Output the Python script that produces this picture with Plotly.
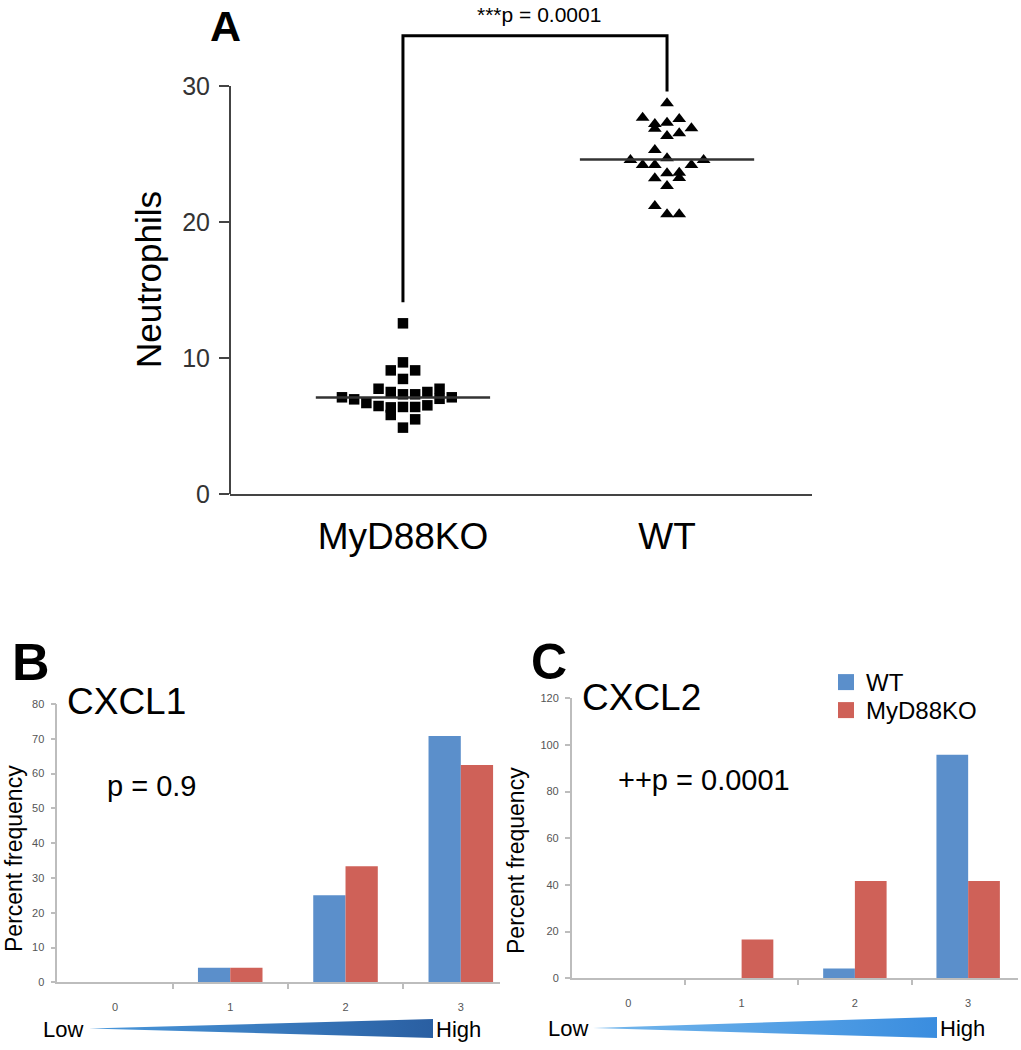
import plotly.graph_objects as go

# ---------------- data ----------------
groups = ["MyD88KO", "WT"]

# Panel A: neutrophil counts and beeswarm column slot of each point
ko_values = [12.55, 9.68, 9.09, 9.09, 8.46, 7.74, 7.5, 7.33, 7.33, 7.5, 7.74, 7.0,
             7.11, 7.11, 6.96, 6.69, 6.47, 6.37, 5.81, 6.4, 6.4, 6.52, 5.49, 4.88]
ko_slots = [0, 0, -1, 1, 0, -2, -1, 0, 1, 2, 3, 3, 4, -5, -4, -3, -2, -1, -1, 0, 1, 2, 1, 0]
wt_values = [28.73, 27.67, 27.2, 26.86, 27.3, 27.57, 26.89, 26.32, 26.52, 25.29, 24.68, 24.56,
             24.19, 24.19, 24.19, 24.56, 23.58, 23.63, 23.24, 23.21, 22.65, 21.18, 20.57, 20.57]
wt_slots = [0, -2, -1, -1, 0, 1, 2, 0, 1, -1, 0, -3, -2, -1, 2, 3, 0, 1, 1, -1, 0, -1, 0, 1]
ko_median = 7.1
wt_median = 24.6
a_yticks = [0, 10, 20, 30]
p_text_a = "***p = 0.0001"

# Panels B / C: percent frequency by score
scores = [0, 1, 2, 3]
score_labels = ["0", "1", "2", "3"]
cxcl1_wt = [0, 4.17, 25.0, 70.83]
cxcl1_ko = [0, 4.17, 33.33, 62.5]
cxcl2_wt = [0, 0, 4.17, 95.83]
cxcl2_ko = [0, 16.67, 41.67, 41.67]

# ---------------- style ----------------
W, H = 1021, 1050
FONT = "Liberation Sans, Arial, Helvetica, sans-serif"
BLUE = "#5b8fcb"
RED = "#cf6158"
AX_GRAY = "#bdbdbd"
SLOT = 0.0462


def px(x):
    return x / W


def py(y):
    return 1 - y / H


fig = go.Figure()

# ---------- Panel A ----------
fig.add_trace(go.Scatter(
    x=[0 + s * SLOT for s in ko_slots], y=ko_values, mode="markers",
    marker=dict(symbol="square", size=10.5, color="black"),
    xaxis="x", yaxis="y", showlegend=False, name="MyD88KO"))
fig.add_trace(go.Scatter(
    x=[1 + s * SLOT for s in wt_slots], y=wt_values, mode="markers",
    marker=dict(symbol="triangle-up", size=12, color="black"),
    xaxis="x", yaxis="y", showlegend=False, name="WT"))
# median lines
for gi, med in [(0, ko_median), (1, wt_median)]:
    fig.add_trace(go.Scatter(
        x=[gi - 0.33, gi + 0.33], y=[med, med], mode="lines",
        line=dict(color="#333333", width=2.5), xaxis="x", yaxis="y",
        showlegend=False, hoverinfo="skip"))
# significance bracket
bracket_top = 33.7
fig.add_trace(go.Scatter(
    x=[0, 0, 1, 1], y=[14.1, bracket_top, bracket_top, 29.6], mode="lines",
    line=dict(color="black", width=3), xaxis="x", yaxis="y",
    showlegend=False, hoverinfo="skip"))

# ---------- Panel B ----------
fig.add_trace(go.Bar(x=scores, y=cxcl1_wt, marker=dict(color=BLUE, line=dict(width=0)),
                     xaxis="x2", yaxis="y2", showlegend=False, name="WT"))
fig.add_trace(go.Bar(x=scores, y=cxcl1_ko, marker=dict(color=RED, line=dict(width=0)),
                     xaxis="x2", yaxis="y2", showlegend=False, name="MyD88KO"))

# ---------- Panel C ----------
fig.add_trace(go.Bar(x=scores, y=cxcl2_wt, marker=dict(color=BLUE, line=dict(width=0)),
                     xaxis="x3", yaxis="y3", showlegend=False, name="WT"))
fig.add_trace(go.Bar(x=scores, y=cxcl2_ko, marker=dict(color=RED, line=dict(width=0)),
                     xaxis="x3", yaxis="y3", showlegend=False, name="MyD88KO"))
# legend proxies (bigger square swatches)
fig.add_trace(go.Scatter(x=[None], y=[None], mode="markers", name="WT",
                         marker=dict(symbol="square", size=16, color=BLUE),
                         xaxis="x3", yaxis="y3", legend="legend"))
fig.add_trace(go.Scatter(x=[None], y=[None], mode="markers", name="MyD88KO",
                         marker=dict(symbol="square", size=16, color=RED),
                         xaxis="x3", yaxis="y3", legend="legend2"))

# ---------- Low -> High wedges (decoration, overlay pixel axes) ----------
wedges = [
    dict(x0=89, x1=433, yc=1028.5, yt=1019, yb=1038, c0="#4a98dc", c1="#2a5fa2"),
    dict(x0=593, x1=937, yc=1028, yt=1017, yb=1038, c0="#74b7ec", c1="#3a8ddf"),
]
for wd in wedges:
    fig.add_trace(go.Scatter(
        x=[wd["x0"], wd["x1"], wd["x1"], wd["x0"]],
        y=[wd["yc"], wd["yt"], wd["yb"], wd["yc"]],
        mode="lines", fill="toself", line=dict(width=0, color="rgba(0,0,0,0)"),
        fillgradient=dict(type="horizontal", colorscale=[[0, wd["c0"]], [1, wd["c1"]]]),
        xaxis="x4", yaxis="y4", showlegend=False, hoverinfo="skip"))

# ---------------- layout ----------------
a_x0, a_x1 = 230, 812
b_x0, b_x1 = 57.3, 500
c_x0, c_x1 = 571.7, 1018

fig.update_layout(
    width=W, height=H, autosize=False,
    margin=dict(l=0, r=0, t=0, b=0, autoexpand=False),
    paper_bgcolor="white", plot_bgcolor="rgba(0,0,0,0)",
    font=dict(family=FONT, color="black"),
    barmode="group", bargap=0.44, bargroupgap=0,
    xaxis=dict(domain=[px(a_x0), px(a_x1)], range=[-0.655, 1.549],
               tickvals=[0, 1], ticktext=groups, ticks="",
               tickfont=dict(size=37, color="black"), ticklabelstandoff=9,
               showline=True, linecolor="#444444", linewidth=2,
               showgrid=False, zeroline=False, anchor="y"),
    yaxis=dict(domain=[py(494), py(18)], range=[0, 35],
               tickvals=a_yticks, ticks="outside", ticklen=10, tickwidth=2,
               tickcolor="#444444", tickfont=dict(size=25, color="#333333"),
               ticklabelstandoff=4,
               showline=False, showgrid=False, zeroline=False, anchor="x"),
    xaxis2=dict(domain=[px(b_x0), px(b_x1)], range=[-0.5, 3.34],
                tickvals=scores, ticktext=score_labels, ticks="",
                tickfont=dict(size=11, color="#555555"), ticklabelstandoff=14,
                minor=dict(tickmode="array", tickvals=[0.5, 1.5, 2.5], ticks="outside",
                           ticklen=5, tickcolor=AX_GRAY, tickwidth=1.5, showgrid=False),
                showline=True, linecolor=AX_GRAY, linewidth=1.5,
                showgrid=False, zeroline=False, anchor="y2"),
    yaxis2=dict(domain=[py(982.3), py(704)], range=[0, 80], dtick=10,
                ticks="outside", ticklen=5, tickcolor=AX_GRAY, tickwidth=1.5,
                tickfont=dict(size=11, color="#555555"), ticklabelstandoff=4,
                showline=True, linecolor=AX_GRAY, linewidth=1.5,
                showgrid=False, zeroline=False, anchor="x2"),
    xaxis3=dict(domain=[px(c_x0), px(c_x1)], range=[-0.5, 3.44],
                tickvals=scores, ticktext=score_labels, ticks="",
                tickfont=dict(size=11, color="#555555"), ticklabelstandoff=14,
                minor=dict(tickmode="array", tickvals=[0.5, 1.5, 2.5], ticks="outside",
                           ticklen=5, tickcolor=AX_GRAY, tickwidth=1.5, showgrid=False),
                showline=True, linecolor=AX_GRAY, linewidth=1.5,
                showgrid=False, zeroline=False, anchor="y3"),
    yaxis3=dict(domain=[py(978.3), py(698.3)], range=[0, 120], dtick=20,
                ticks="outside", ticklen=5, tickcolor=AX_GRAY, tickwidth=1.5,
                tickfont=dict(size=11, color="#555555"), ticklabelstandoff=4,
                showline=True, linecolor=AX_GRAY, linewidth=1.5,
                showgrid=False, zeroline=False, anchor="x3"),
    xaxis4=dict(domain=[0, 1], range=[0, W], visible=False, fixedrange=True, anchor="y4"),
    yaxis4=dict(domain=[0, 1], range=[H, 0], visible=False, fixedrange=True, anchor="x4"),
    legend=dict(x=px(826), y=py(660), xanchor="left", yanchor="top",
                font=dict(size=24, color="black"), bgcolor="rgba(0,0,0,0)",
                itemwidth=30, tracegroupgap=0),
    legend2=dict(x=px(826), y=py(688), xanchor="left", yanchor="top",
                 font=dict(size=24, color="black"), bgcolor="rgba(0,0,0,0)",
                 itemwidth=30, tracegroupgap=0),
)

# y-axis line of panel A only spans 0..30
fig.add_shape(type="line", xref="x domain", yref="y", x0=0, x1=0, y0=0, y1=30,
              line=dict(color="#444444", width=2))

ann = []


def add_text(text, x, y, size, xanchor="center", yanchor="middle", bold=False, angle=0, color="black"):
    ann.append(dict(text=("<b>%s</b>" % text) if bold else text,
                    x=px(x), y=py(y), xref="paper", yref="paper",
                    xanchor=xanchor, yanchor=yanchor, showarrow=False,
                    textangle=angle, font=dict(size=size, color=color, family=FONT)))


add_text("A", 225, 0, 43, bold=True, yanchor="top")
add_text("B", 31, 662, 52, bold=True)
add_text("C", 549, 662, 50, bold=True)
add_text(p_text_a, 539, 15, 21)
add_text("Neutrophils", 149, 280, 35, angle=-90)
add_text("Percent frequency", 14, 859, 23, angle=-90)
add_text("Percent frequency", 516, 861, 23, angle=-90)
add_text("CXCL1", 65, 701, 37, xanchor="left")
add_text("CXCL2", 580, 697, 37, xanchor="left")
add_text("p = 0.9", 105, 786, 29, xanchor="left")
add_text("++p = 0.0001", 616, 780, 29, xanchor="left")
add_text("Low", 85, 1029, 22, xanchor="right")
add_text("High", 434, 1029, 22, xanchor="left")
add_text("Low", 590, 1028, 22, xanchor="right")
add_text("High", 938, 1028, 22, xanchor="left")
fig.update_layout(annotations=ann)

fig.write_html("out.html", config={"displayModeBar": False},
               post_script="document.body.style.margin='0';document.body.style.overflow='hidden';")
